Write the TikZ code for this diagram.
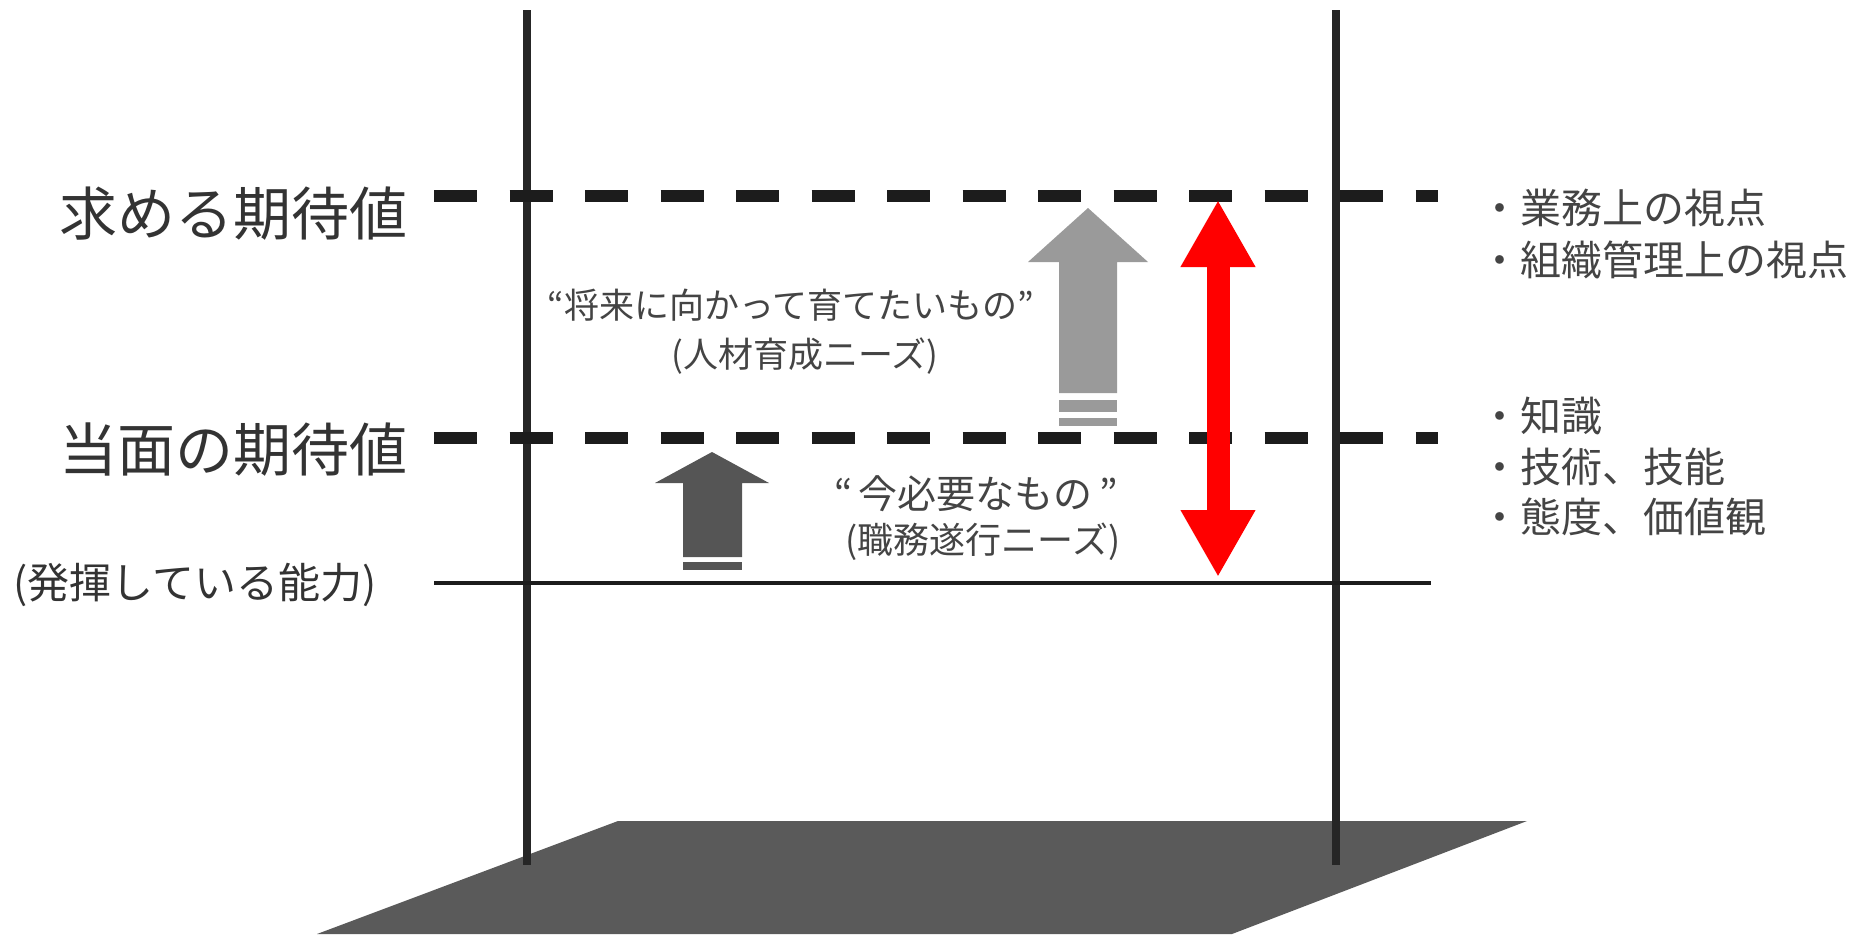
\documentclass[tikz,border=0pt]{standalone}
\usepackage{fontspec}
\newfontfamily\jp{Noto Sans CJK JP}
\usetikzlibrary{arrows.meta}
\definecolor{poleC}{HTML}{262626}
\definecolor{dashC}{HTML}{1C1C1C}
\definecolor{floorC}{HTML}{5A5A5A}
\definecolor{upC}{HTML}{9A9A9A}
\definecolor{lowC}{HTML}{555555}
\definecolor{txtC}{HTML}{333333}
\definecolor{txtB}{HTML}{444444}
\begin{document}
\begin{tikzpicture}[x=1pt,y=-1pt,
  pole/.style={line width=8pt,draw=poleC},
  lvl/.style={line width=12pt,draw=dashC,dash pattern=on 43pt off 32.5pt},
  baseline/.style={line width=3.5pt,draw=dashC},
  bigtxt/.style={font=\jp\fontsize{58pt}{62pt}\selectfont,text=txtC,inner sep=0pt,anchor=west},
  midtxt/.style={font=\jp\fontsize{42pt}{46pt}\selectfont,text=txtC,inner sep=0pt,anchor=west},
  ctrtxt/.style={font=\jp\fontsize{35pt}{38pt}\selectfont,text=txtB,inner sep=0pt},
  ctrtxtb/.style={font=\jp\fontsize{36pt}{40pt}\selectfont,text=txtB,inner sep=0pt},
  ctrtxtc/.style={font=\jp\fontsize{39pt}{42pt}\selectfont,text=txtB,inner sep=0pt},
  sidetxt/.style={font=\jp\fontsize{41pt}{44pt}\selectfont,text=txtB,inner sep=0pt,anchor=west},
  redarr/.style={line width=23pt,draw=red,{Triangle[length=67pt,width=70pt]}-{Triangle[length=67pt,width=70pt]}}
]
\useasboundingbox (0,0) rectangle (1865,937);
% floor
\fill[floorC] (618,821) -- (1527,821) -- (1232,934) -- (317,934) -- cycle;
% poles
\coordinate (lpT) at (527,10);  \coordinate (lpB) at (527,865);
\coordinate (rpT) at (1336,10); \coordinate (rpB) at (1336,865);
\draw[pole] (lpT) -- (lpB);
\draw[pole] (rpT) -- (rpB);
% levels
\coordinate (l1a) at (434,196); \coordinate (l1b) at (1438,196);
\coordinate (l2a) at (434,438); \coordinate (l2b) at (1438,438);
\coordinate (l3a) at (434,583); \coordinate (l3b) at (1431,583);
\draw[lvl] (l1a) -- (l1b);
\draw[lvl] (l2a) -- (l2b);
\draw[baseline] (l3a) -- (l3b);
% upper block arrow
\fill[upC] (1088,208) -- (1148,262) -- (1117,262) -- (1117,393) -- (1059,393) -- (1059,262) -- (1028,262) -- cycle;
\fill[upC] (1059,400) rectangle (1117,412);
\fill[upC] (1059,418) rectangle (1117,426);
% lower block arrow
\fill[lowC] (712,452) -- (769,483) -- (742,483) -- (742,557) -- (683,557) -- (683,483) -- (655,483) -- cycle;
\fill[lowC] (683,562) rectangle (742,570);
% red arrow
\coordinate (rtop) at (1218,200);
\coordinate (rbot) at (1218,577);
\draw[redarr] (rtop) -- (rbot);
% texts
\node[bigtxt] (t1) at (59,214) {求める期待値};
\node[bigtxt] (t2) at (59,450) {当面の期待値};
\node[midtxt] (t3) at (13,585) {(発揮している能力)};
\node[ctrtxt] (c1) at (791,305) {“将来に向かって育てたいもの”};
\node[ctrtxt] (c2) at (805,356) {(人材育成ニーズ)};
\node[ctrtxtc] (c3) at (976,494) {“\,今必要なもの\,”};
\node[ctrtxtb] (c4) at (983,542) {(職務遂行ニーズ)};
\node[sidetxt] (s1) at (1479,208) {・業務上の視点};
\node[sidetxt] (s2) at (1479,260) {・組織管理上の視点};
\node[sidetxt] (s3) at (1479,416) {・知識};
\node[sidetxt] (s4) at (1479,467) {・技術、技能};
\node[sidetxt] (s5) at (1479,517) {・態度、価値観};
\end{tikzpicture}
\end{document}
